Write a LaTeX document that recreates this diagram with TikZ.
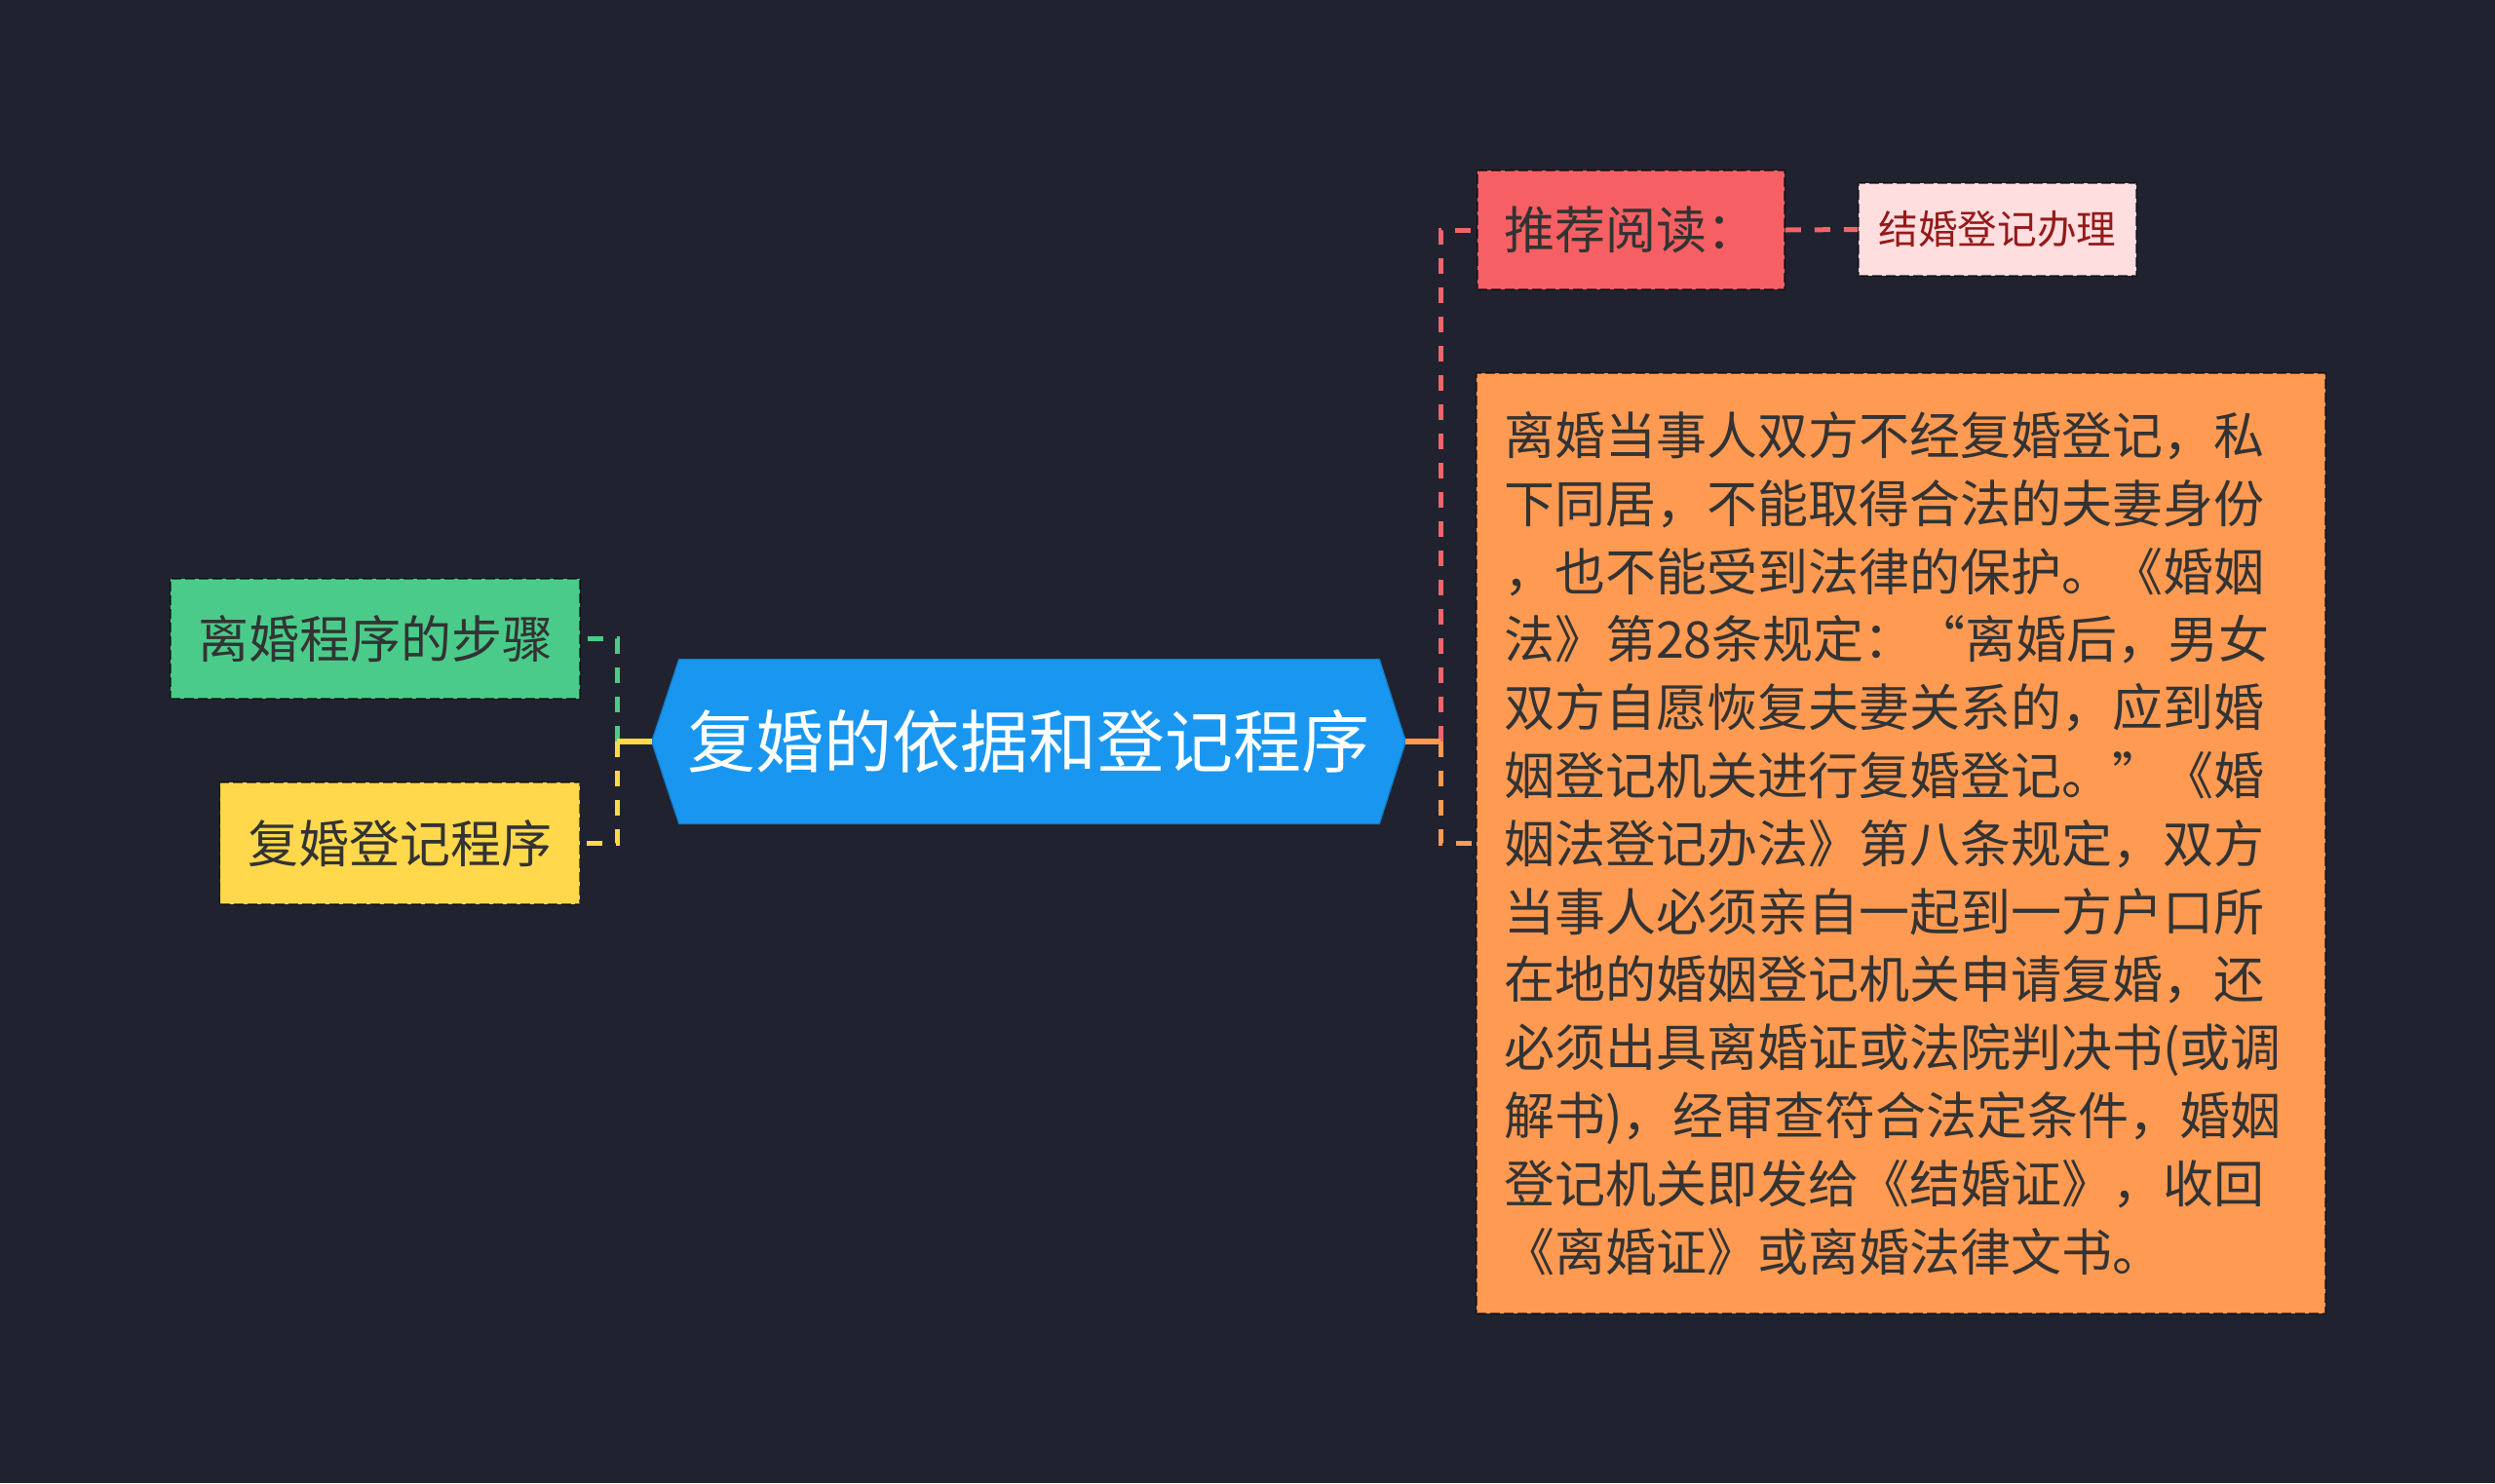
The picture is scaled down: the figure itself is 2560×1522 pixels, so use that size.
\documentclass[tikz,border=0pt]{standalone}
\usepackage{fontspec}
\setmainfont{Noto Sans CJK SC}
\usetikzlibrary{calc}
\definecolor{bg}{HTML}{20232F}
\definecolor{cblue}{HTML}{1997F0}
\definecolor{cgreen}{HTML}{4ACB8A}
\definecolor{cyellow}{HTML}{FFD84C}
\definecolor{cred}{HTML}{F65F63}
\definecolor{cpink}{HTML}{FFDEDF}
\definecolor{corange}{HTML}{FF9A52}
\definecolor{lred}{HTML}{F06568}
\definecolor{txt}{HTML}{333333}
\definecolor{ptxt}{HTML}{951A1A}
\tikzset{
  boxnode/.style={draw=black, draw opacity=0.55, dash pattern=on 5pt off 2pt, line width=0.8pt,
    inner sep=0pt, text=txt, font=\fontsize{26}{30}\selectfont},
  dashlink/.style={line width=2.5pt, dash pattern=on 8pt off 7pt},
  solidlink/.style={line width=2.8pt},
}
\begin{document}
\begin{tikzpicture}[x=0.5pt,y=-0.5pt]
\fill[bg] (0,0) rectangle (2560,1522);
\useasboundingbox (0,0) rectangle (2560,1522);

% central node
\node[minimum width=386.5pt, minimum height=84pt, inner sep=0pt, text=white,
      font=\fontsize{35}{40}\selectfont] (c) at (1055.5,761) {};
\fill[cblue, draw=cblue!80!black, line width=0.6pt]
  (c.west) -- ($(c.north west)+(28,0)$) -- ($(c.north east)+(-27,0)$) -- (c.east)
  -- ($(c.south east)+(-27,0)$) -- ($(c.south west)+(28,0)$) -- cycle;
\node[text=white, font=\fontsize{35}{40}\selectfont, inner sep=0pt] (ct) at (c.center) {复婚的依据和登记程序};

% left nodes
\node[boxnode, fill=cgreen, minimum width=210pt, minimum height=61.5pt] (g) at (385,655.5) {离婚程序的步骤};
\node[boxnode, fill=cyellow, minimum width=184.5pt, minimum height=62.5pt] (y) at (410,865.5) {复婚登记程序};

% right nodes
\node[boxnode, fill=cred, minimum width=157.5pt, minimum height=61pt] (r) at (1673.5,236) {推荐阅读：};
\node[boxnode, fill=cpink, text=ptxt, minimum width=142.5pt, minimum height=47.5pt,
      font=\fontsize{20.3}{24}\selectfont] (p) at (2049.5,235.5) {结婚登记办理};
\node[boxnode, fill=corange, minimum height=482.5pt, text width=407.5pt, align=left,
      inner xsep=14pt, inner ysep=0pt, font=\fontsize{26}{34.9}\selectfont] (o) at (1950.5,865.5)
{离婚当事人双方不经复婚登记，私\\
下同居，不能取得合法的夫妻身份\\
，也不能受到法律的保护。《婚姻\\
法》第28条规定：“离婚后，男女\\
双方自愿恢复夫妻关系的，应到婚\\
姻登记机关进行复婚登记。”《婚\\
姻法登记办法》第八条规定，双方\\
当事人必须亲自一起到一方户口所\\
在地的婚姻登记机关申请复婚，还\\
必须出具离婚证或法院判决书(或调\\
解书)，经审查符合法定条件，婚姻\\
登记机关即发给《结婚证》，收回\\
《离婚证》或离婚法律文书。};

% connectors left
\coordinate (lj) at (633,761);
\draw[dashlink, cgreen] (lj) -- (lj |- g.east) -- (g.east);
\draw[dashlink, cyellow] (lj) -- (lj |- y.east) -- (y.east);
\draw[solidlink, cyellow] (c.west) -- (lj);

% connectors right
\coordinate (rj) at (1478,761);
\draw[dashlink, lred] (rj) -- (rj |- r.west) -- (r.west);
\draw[dashlink, corange] (rj) -- (rj |- o.west) -- (o.west);
\draw[solidlink, corange] (c.east) -- (rj);
\draw[dashlink, lred] (r.east) -- (p.west);
\end{tikzpicture}
\end{document}
